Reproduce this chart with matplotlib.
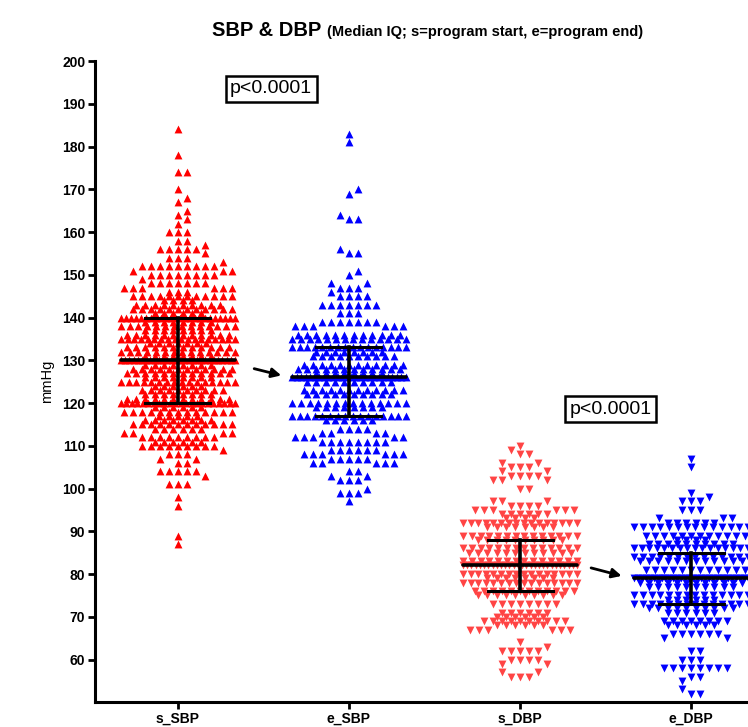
import numpy as np
import matplotlib.pyplot as plt

plt.rcParams['font.family'] = ['Liberation Sans', 'DejaVu Sans']

# --- data (value in mmHg : number of points on that row) ---
groups = ["s_SBP", "e_SBP", "s_DBP", "e_DBP"]

sSBP_vals = [184, 178, 174, 170, 168, 167, 165, 164, 163, 162, 160, 158, 157, 156, 155, 154, 153, 152,
             151, 150, 149, 148, 147, 146, 145, 144, 143, 142, 141, 140, 139, 138, 137, 136, 135, 134,
             133, 132, 131, 130, 129, 128, 127, 126, 125, 124, 123, 122, 121, 120, 119, 118, 117, 116,
             115, 114, 113, 112, 111, 110, 109, 108, 107, 106, 104, 103, 101, 98, 96, 89, 87]
sSBP_counts = [1, 1, 2, 1, 1, 1, 1, 1, 1, 1, 3, 2, 1, 5, 1, 3, 1, 9,
               3, 8, 1, 7, 6, 3, 12, 4, 10, 12, 6, 24, 8, 14, 8, 12, 18, 7,
               12, 14, 8, 28, 8, 12, 12, 8, 16, 6, 10, 8, 12, 22, 6, 13, 5, 8,
               12, 6, 4, 9, 6, 9, 1, 3, 2, 2, 5, 1, 3, 1, 1, 1, 1]

eSBP_vals = [183, 181, 170, 169, 164, 163, 156, 155, 151, 150, 148, 147, 146, 145, 143, 141, 139, 138,
             136, 135, 133, 132, 131, 129, 128, 127, 126, 125, 123, 122, 120, 119, 117, 116, 114, 113,
             112, 111, 109, 108, 107, 106, 104, 103, 102, 100, 99, 97]
eSBP_counts = [1, 1, 1, 1, 1, 2, 1, 2, 1, 1, 2, 3, 1, 4, 7, 3, 7, 6,
               12, 14, 16, 8, 10, 12, 12, 8, 26, 10, 12, 10, 14, 8, 16, 6, 4, 4,
               5, 8, 6, 6, 5, 5, 2, 2, 3, 1, 3, 1]

sDBP_vals = [110, 109, 108, 106, 105, 104, 103, 102, 100, 97, 96, 95, 94, 93, 92, 91, 89, 88,
             86, 85, 83, 82, 80, 79, 78, 76, 75, 73, 71, 70, 69, 68, 67, 64, 63, 62, 60, 59, 57, 56]
sDBP_counts = [1, 1, 2, 2, 3, 2, 4, 3, 2, 3, 4, 6, 6, 4, 16, 8, 14, 10,
               14, 12, 14, 28, 16, 8, 16, 12, 10, 8, 6, 6, 10, 6, 6, 1, 1, 5, 4, 2, 2, 3]

eDBP_vals = [107, 105, 99, 98, 97, 95, 93, 92, 91, 89, 88, 87, 86, 84, 83, 81, 79, 78,
             77, 75, 74, 73, 72, 71, 69, 68, 66, 65, 62, 60, 58, 56, 55, 53, 52]
eDBP_counts = [1, 1, 1, 1, 3, 3, 3, 6, 14, 12, 4, 10, 16, 14, 12, 12, 30, 12,
               10, 14, 6, 14, 10, 6, 8, 6, 6, 2, 2, 3, 8, 2, 1, 1, 2]

medians = [130, 126, 82, 79]
q1 = [120, 117, 76, 73]
q3 = [140, 133, 88, 85]

colors = ["#ff0000", "#0000ff", "#ff4444", "#0000ff"]
markers = ["^", "^", "v", "v"]

all_vals = [sSBP_vals, eSBP_vals, sDBP_vals, eDBP_vals]
all_counts = [sSBP_counts, eSBP_counts, sDBP_counts, eDBP_counts]

PX_X = 171.0   # pixels per category step
PX_Y = 4.28    # pixels per mmHg


def swarm(center, vals, counts, half_px=57, w=8.5, h=7.5):
    # greedy beeswarm in pixel space; rows that cannot fit get squeezed
    placed = []          # (xpx, ypx)
    xs, ys = [], []
    order = sorted(range(len(vals)), key=lambda k: (-counts[k], abs(vals[k] - np.median(vals))))
    cands = sorted(range(-half_px, half_px + 1), key=lambda c: (abs(c), -c))
    for k in order:
        v, n = vals[k], counts[k]
        ypx = v * PX_Y
        near = [p for p in placed if abs(p[1] - ypx) < h]
        row = []
        for _ in range(n):
            ok = None
            for c in cands:
                if all(abs(c - px) >= w for px, _ in near + [(r, 0) for r in row]):
                    ok = c
                    break
            if ok is None:
                break
            row.append(ok)
        if len(row) < n:
            d = min(9.3, 2 * half_px / (n - 1))
            row = list((np.arange(n) - (n - 1) / 2) * d)
        for r in row:
            placed.append((r, ypx))
            xs.append(center + r / PX_X)
            ys.append(v)
    return np.array(xs), np.array(ys)


fig = plt.figure(figsize=(7.48, 7.27), dpi=100)
ax = fig.add_axes([0.127, 0.034, 0.873, 0.882])

for i in range(4):
    x, y = swarm(i, all_vals[i], all_counts[i])
    ax.scatter(x, y, marker=markers[i], s=32, color=colors[i], linewidths=0,
               zorder=2, clip_on=False)
    # median and interquartile bars
    ax.plot([i - 0.335, i + 0.335], [medians[i]] * 2, color="black", lw=2.6, zorder=3,
            solid_capstyle="round")
    ax.plot([i - 0.19, i + 0.19], [q1[i]] * 2, color="black", lw=2.2, zorder=3)
    ax.plot([i - 0.19, i + 0.19], [q3[i]] * 2, color="black", lw=2.2, zorder=3)
    ax.plot([i, i], [q1[i], q3[i]], color="black", lw=2.6, zorder=3)

# arrows from start to end
ax.annotate("", xy=(0.62, 126.3), xytext=(0.43, 128.2),
            arrowprops=dict(arrowstyle="-|>", color="black", lw=2, mutation_scale=14))
ax.annotate("", xy=(2.61, 79.4), xytext=(2.40, 81.6),
            arrowprops=dict(arrowstyle="-|>", color="black", lw=2, mutation_scale=14))

# p-value boxes
box = dict(boxstyle="square,pad=0.22", fc="white", ec="black", lw=1.8)
ax.text(0.545, 193.5, "p<0.0001", ha="center", va="center", fontsize=14, bbox=box)
ax.text(2.53, 118.6, "p<0.0001", ha="center", va="center", fontsize=14, bbox=box)

ax.set_xlim(-0.485, 3.333)
ax.set_ylim(50, 200)
ax.set_yticks(np.arange(60, 201, 10))
ax.set_xticks(range(4))
ax.set_xticklabels(groups, fontweight="bold", fontsize=10)
for lab in ax.get_yticklabels():
    lab.set_fontweight("bold")
    lab.set_fontsize(10)
ax.tick_params(axis="both", direction="out", length=5, width=2, pad=2)
ax.spines["top"].set_visible(False)
ax.spines["right"].set_visible(False)
ax.spines["left"].set_linewidth(2.2)
ax.spines["bottom"].set_linewidth(2.2)
ax.set_ylabel("mmHg", fontsize=10.5, labelpad=6)

fig.text(0.283, 0.958, "SBP & DBP", fontsize=14.5, fontweight="bold", ha="left", va="center")
fig.text(0.437, 0.956, "(Median IQ; s=program start, e=program end)", fontsize=10.5,
         fontweight="bold", ha="left", va="center")

fig.savefig("out.png", dpi=100)
